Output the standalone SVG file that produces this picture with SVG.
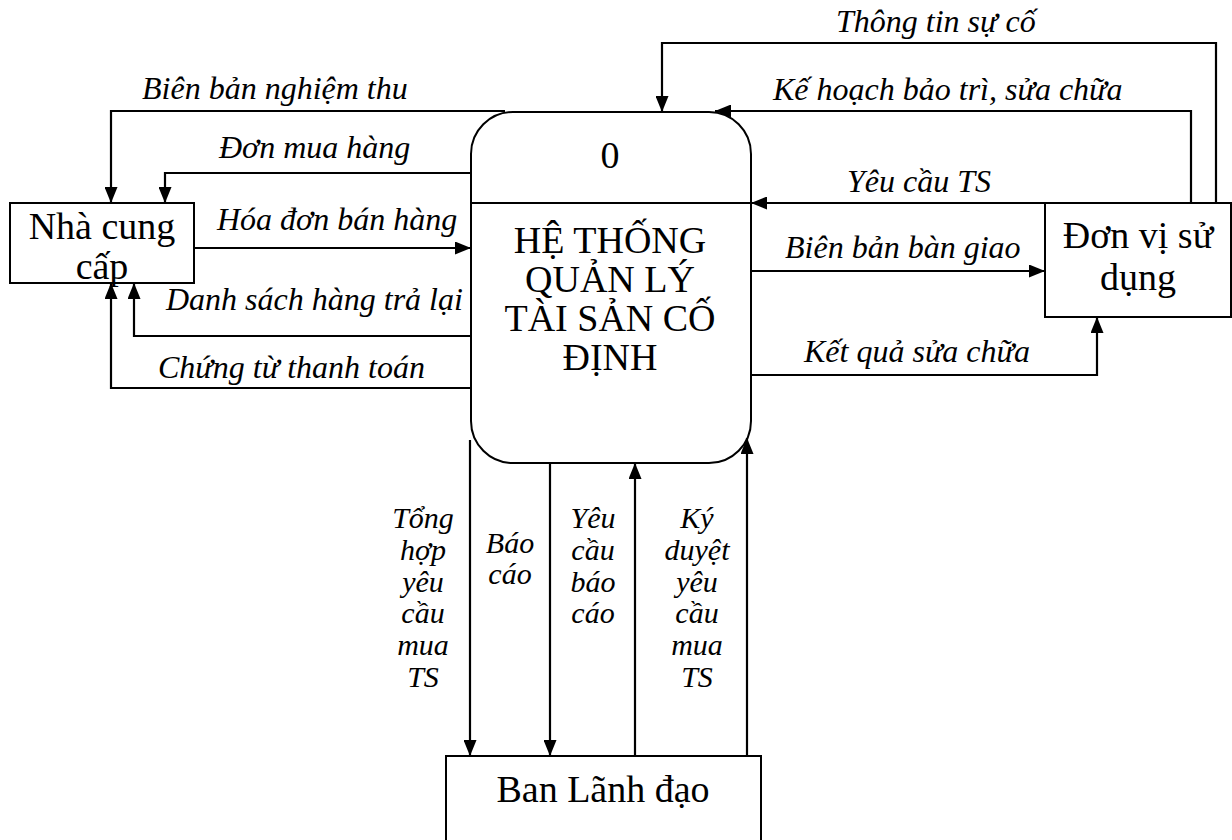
<svg xmlns="http://www.w3.org/2000/svg" width="1232" height="840" viewBox="0 0 1232 840">
  <style>
    .box { fill: #ffffff; stroke: #000000; stroke-width: 2; }
    .node { font-family: "Liberation Serif", "Times New Roman", serif; font-size: 38px; fill: #000000; text-anchor: middle; }
    .flow { fill: none; stroke: #000000; stroke-width: 2.2; }
    .lbl { font-family: "Liberation Serif", "Times New Roman", serif; font-size: 32px; font-style: italic; fill: #000000; }
    .col { font-size: 30px; text-anchor: middle; }
  </style>
  <defs>
    <marker id="arrow" viewBox="0 0 16 13" refX="16" refY="6.5" markerWidth="16" markerHeight="13" markerUnits="userSpaceOnUse" orient="auto">
      <path d="M0,0 L16,6.5 L0,13 Z" fill="#000000"/>
    </marker>
  </defs>

  <rect width="1232" height="840" fill="#ffffff"/>

  <!-- process 0 -->
  <g id="process-0">
    <rect class="box" x="471" y="112" width="280" height="351" rx="42" ry="42"/>
    <line x1="471" y1="203" x2="751" y2="203" stroke="#000000" stroke-width="2"/>
    <text class="node" x="610" y="168">0</text>
    <text class="node" x="610" y="253">HỆ THỐNG</text>
    <text class="node" x="610" y="292">QUẢN LÝ</text>
    <text class="node" x="610" y="331">TÀI SẢN CỐ</text>
    <text class="node" x="610" y="370">ĐỊNH</text>
  </g>

  <!-- external entities -->
  <g id="nha-cung-cap">
    <rect class="box" x="10" y="203" width="184" height="80"/>
    <text class="node" x="102" y="239">Nhà cung</text>
    <text class="node" x="102" y="279">cấp</text>
  </g>

  <g id="don-vi-su-dung">
    <rect class="box" x="1045" y="203" width="186" height="114"/>
    <text class="node" x="1138" y="248">Đơn vị sử</text>
    <text class="node" x="1138" y="290">dụng</text>
  </g>

  <g id="ban-lanh-dao">
    <rect class="box" x="446" y="756" width="315" height="110"/>
    <text class="node" x="603" y="802">Ban Lãnh đạo</text>
  </g>

  <!-- data flows -->
  <g id="connectors">
    <path class="flow" d="M505,111 H111 V203" marker-end="url(#arrow)"/>
    <path class="flow" d="M471,173 H165 V203" marker-end="url(#arrow)"/>
    <path class="flow" d="M194,248 H471" marker-end="url(#arrow)"/>
    <path class="flow" d="M471,336 H134 V283" marker-end="url(#arrow)"/>
    <path class="flow" d="M471,388 H111 V283" marker-end="url(#arrow)"/>

    <path class="flow" d="M1216,203 V43 H662 V112" marker-end="url(#arrow)"/>
    <path class="flow" d="M1191,203 V111 H715" marker-end="url(#arrow)"/>
    <path class="flow" d="M1045,203 H751" marker-end="url(#arrow)"/>
    <path class="flow" d="M751,271 H1045" marker-end="url(#arrow)"/>
    <path class="flow" d="M751,375 H1097 V317" marker-end="url(#arrow)"/>

    <path class="flow" d="M470,440 V756" marker-end="url(#arrow)"/>
    <path class="flow" d="M550,463 V756" marker-end="url(#arrow)"/>
    <path class="flow" d="M635,756 V463" marker-end="url(#arrow)"/>
    <path class="flow" d="M747,756 V438" marker-end="url(#arrow)"/>
  </g>

  <!-- flow labels -->
  <g id="labels">
    <text class="lbl" x="142" y="99">Biên bản nghiệm thu</text>
    <text class="lbl" x="219" y="158">Đơn mua hàng</text>
    <text class="lbl" x="217" y="230">Hóa đơn bán hàng</text>
    <text class="lbl" x="166" y="310">Danh sách hàng trả lại</text>
    <text class="lbl" x="158" y="378">Chứng từ thanh toán</text>

    <text class="lbl" x="836" y="32">Thông tin sự cố</text>
    <text class="lbl" x="773" y="100">Kế hoạch bảo trì, sửa chữa</text>
    <text class="lbl" x="847" y="192">Yêu cầu TS</text>
    <text class="lbl" x="785" y="258">Biên bản bàn giao</text>
    <text class="lbl" x="804" y="362">Kết quả sửa chữa</text>

    <text class="lbl col" x="423" y="528">Tổng</text>
    <text class="lbl col" x="423" y="560">hợp</text>
    <text class="lbl col" x="423" y="592">yêu</text>
    <text class="lbl col" x="423" y="623">cầu</text>
    <text class="lbl col" x="423" y="655">mua</text>
    <text class="lbl col" x="423" y="687">TS</text>

    <text class="lbl col" x="510" y="553">Báo</text>
    <text class="lbl col" x="510" y="584">cáo</text>

    <text class="lbl col" x="593" y="528">Yêu</text>
    <text class="lbl col" x="593" y="560">cầu</text>
    <text class="lbl col" x="593" y="592">báo</text>
    <text class="lbl col" x="593" y="623">cáo</text>

    <text class="lbl col" x="697" y="528">Ký</text>
    <text class="lbl col" x="697" y="560">duyệt</text>
    <text class="lbl col" x="697" y="592">yêu</text>
    <text class="lbl col" x="697" y="623">cầu</text>
    <text class="lbl col" x="697" y="655">mua</text>
    <text class="lbl col" x="697" y="687">TS</text>
  </g>
</svg>
